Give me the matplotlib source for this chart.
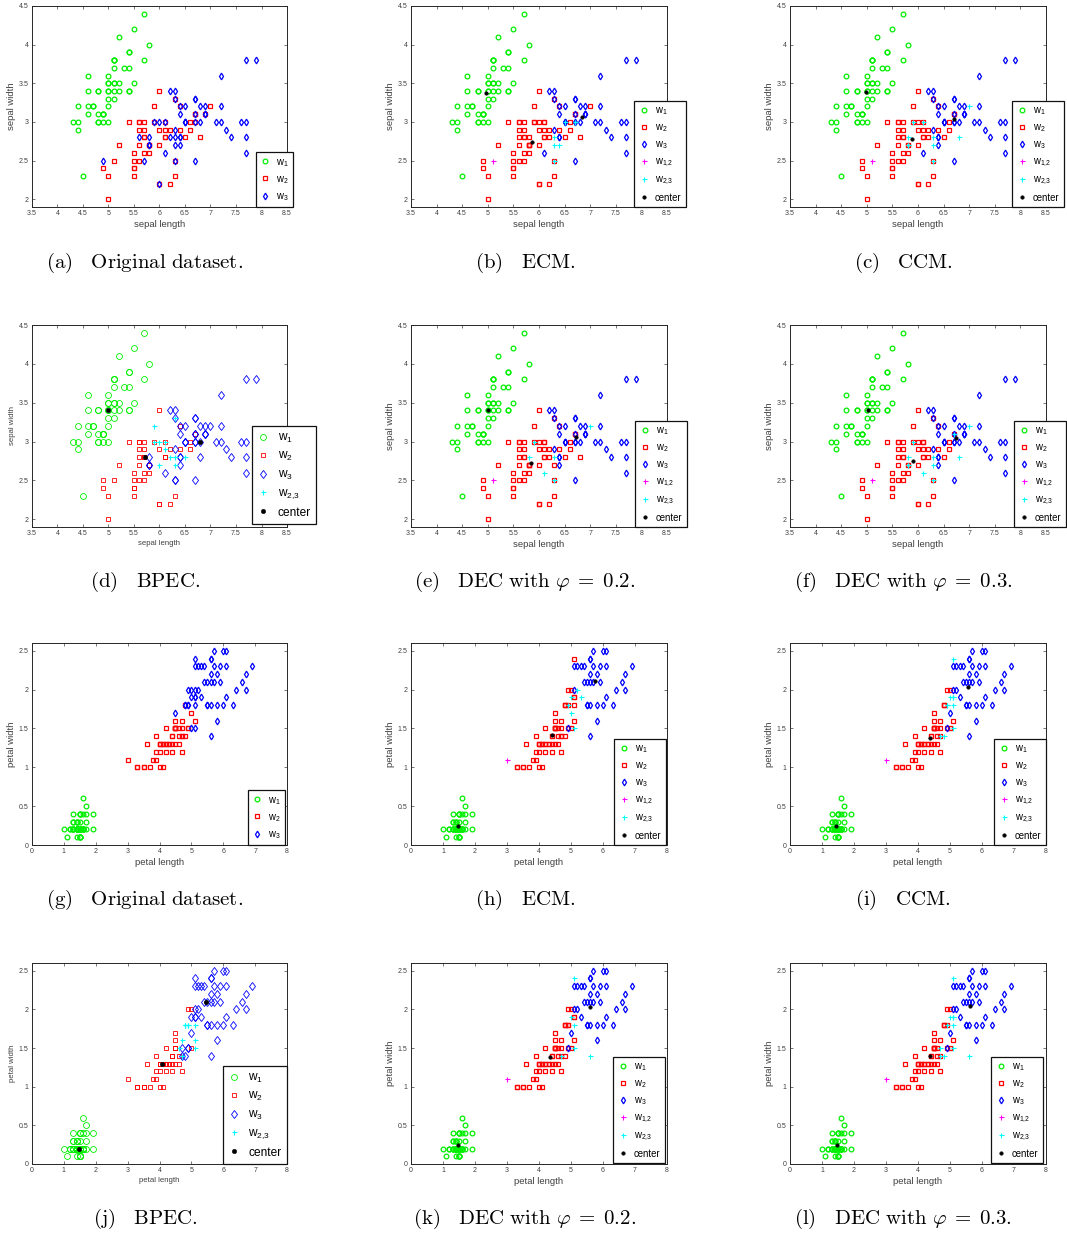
import numpy as np
import matplotlib

matplotlib.use("Agg")
import matplotlib.pyplot as plt

plt.rcParams["font.family"] = ["Liberation Sans", "DejaVu Sans"]
plt.rcParams["mathtext.fontset"] = "custom"
plt.rcParams["mathtext.rm"] = "Liberation Sans"
plt.rcParams["mathtext.it"] = "Liberation Sans:italic"

# Fisher iris data, samples 1..150
SEPAL_LENGTH = [
    5.1, 4.9, 4.7, 4.6, 5.0, 5.4, 4.6, 5.0, 4.4, 4.9, 5.4, 4.8, 4.8, 4.3, 5.8, 5.7, 5.4, 5.1, 5.7, 5.1,
    5.4, 5.1, 4.6, 5.1, 4.8, 5.0, 5.0, 5.2, 5.2, 4.7, 4.8, 5.4, 5.2, 5.5, 4.9, 5.0, 5.5, 4.9, 4.4, 5.1,
    5.0, 4.5, 4.4, 5.0, 5.1, 4.8, 5.1, 4.6, 5.3, 5.0,
    7.0, 6.4, 6.9, 5.5, 6.5, 5.7, 6.3, 4.9, 6.6, 5.2, 5.0, 5.9, 6.0, 6.1, 5.6, 6.7, 5.6, 5.8, 6.2, 5.6,
    5.9, 6.1, 6.3, 6.1, 6.4, 6.6, 6.8, 6.7, 6.0, 5.7, 5.5, 5.5, 5.8, 6.0, 5.4, 6.0, 6.7, 6.3, 5.6, 5.5,
    5.5, 6.1, 5.8, 5.0, 5.6, 5.7, 5.7, 6.2, 5.1, 5.7,
    6.3, 5.8, 7.1, 6.3, 6.5, 7.6, 4.9, 7.3, 6.7, 7.2, 6.5, 6.4, 6.8, 5.7, 5.8, 6.4, 6.5, 7.7, 7.7, 6.0,
    6.9, 5.6, 7.7, 6.3, 6.7, 7.2, 6.2, 6.1, 6.4, 7.2, 7.4, 7.9, 6.4, 6.3, 6.1, 7.7, 6.3, 6.4, 6.0, 6.9,
    6.7, 6.9, 5.8, 6.8, 6.7, 6.7, 6.3, 6.5, 6.2, 5.9,
]
SEPAL_WIDTH = [
    3.5, 3.0, 3.2, 3.1, 3.6, 3.9, 3.4, 3.4, 2.9, 3.1, 3.7, 3.4, 3.0, 3.0, 4.0, 4.4, 3.9, 3.5, 3.8, 3.8,
    3.4, 3.7, 3.6, 3.3, 3.4, 3.0, 3.4, 3.5, 3.4, 3.2, 3.1, 3.4, 4.1, 4.2, 3.1, 3.2, 3.5, 3.1, 3.0, 3.4,
    3.5, 2.3, 3.2, 3.5, 3.8, 3.0, 3.8, 3.2, 3.7, 3.3,
    3.2, 3.2, 3.1, 2.3, 2.8, 2.8, 3.3, 2.4, 2.9, 2.7, 2.0, 3.0, 2.2, 2.9, 2.9, 3.1, 3.0, 2.7, 2.2, 2.5,
    3.2, 2.8, 2.5, 2.8, 2.9, 3.0, 2.8, 3.0, 2.9, 2.6, 2.4, 2.4, 2.7, 2.7, 3.0, 3.4, 3.1, 2.3, 3.0, 2.5,
    2.6, 3.0, 2.6, 2.3, 2.7, 3.0, 2.9, 2.9, 2.5, 2.8,
    3.3, 2.7, 3.0, 2.9, 3.0, 3.0, 2.5, 2.9, 2.5, 3.6, 3.2, 2.7, 3.0, 2.5, 2.8, 3.2, 3.0, 3.8, 2.6, 2.2,
    3.2, 2.8, 2.8, 2.7, 3.3, 3.2, 2.8, 3.0, 2.8, 3.0, 2.8, 3.8, 2.8, 2.8, 2.6, 3.0, 3.4, 3.1, 3.0, 3.1,
    3.1, 3.1, 2.7, 3.2, 3.3, 3.0, 2.5, 3.0, 3.4, 3.0,
]
PETAL_LENGTH = [
    1.4, 1.4, 1.3, 1.5, 1.4, 1.7, 1.4, 1.5, 1.4, 1.5, 1.5, 1.6, 1.4, 1.1, 1.2, 1.5, 1.3, 1.4, 1.7, 1.5,
    1.7, 1.5, 1.0, 1.7, 1.9, 1.6, 1.6, 1.5, 1.4, 1.6, 1.6, 1.5, 1.5, 1.4, 1.5, 1.2, 1.3, 1.5, 1.3, 1.5,
    1.3, 1.3, 1.3, 1.6, 1.9, 1.4, 1.6, 1.4, 1.5, 1.4,
    4.7, 4.5, 4.9, 4.0, 4.6, 4.5, 4.7, 3.3, 4.6, 3.9, 3.5, 4.2, 4.0, 4.7, 3.6, 4.4, 4.5, 4.1, 4.5, 3.9,
    4.8, 4.0, 4.9, 4.7, 4.3, 4.4, 4.8, 5.0, 4.5, 3.5, 3.8, 3.7, 3.9, 5.1, 4.5, 4.5, 4.7, 4.4, 4.1, 4.0,
    4.4, 4.6, 4.0, 3.3, 4.2, 4.2, 4.2, 4.3, 3.0, 4.1,
    6.0, 5.1, 5.9, 5.6, 5.8, 6.6, 4.5, 6.3, 5.8, 6.1, 5.1, 5.3, 5.5, 5.0, 5.1, 5.3, 5.5, 6.7, 6.9, 5.0,
    5.7, 4.9, 6.7, 4.9, 5.7, 6.0, 4.8, 4.9, 5.6, 5.8, 6.1, 6.4, 5.6, 5.1, 5.6, 6.1, 5.6, 5.5, 4.8, 5.4,
    5.6, 5.1, 5.1, 5.9, 5.7, 5.2, 5.0, 5.2, 5.4, 5.1,
]
PETAL_WIDTH = [
    0.2, 0.2, 0.2, 0.2, 0.2, 0.4, 0.3, 0.2, 0.2, 0.1, 0.2, 0.2, 0.1, 0.1, 0.2, 0.4, 0.4, 0.3, 0.3, 0.3,
    0.2, 0.4, 0.2, 0.5, 0.2, 0.2, 0.4, 0.2, 0.2, 0.2, 0.2, 0.4, 0.1, 0.2, 0.1, 0.2, 0.2, 0.1, 0.2, 0.2,
    0.3, 0.3, 0.2, 0.6, 0.4, 0.3, 0.2, 0.2, 0.2, 0.2,
    1.4, 1.5, 1.5, 1.3, 1.5, 1.3, 1.6, 1.0, 1.3, 1.4, 1.0, 1.5, 1.0, 1.4, 1.3, 1.4, 1.5, 1.0, 1.5, 1.1,
    1.8, 1.3, 1.5, 1.2, 1.3, 1.4, 1.4, 1.7, 1.5, 1.0, 1.1, 1.0, 1.2, 1.6, 1.5, 1.6, 1.5, 1.3, 1.3, 1.3,
    1.2, 1.4, 1.2, 1.0, 1.3, 1.2, 1.3, 1.3, 1.1, 1.3,
    2.5, 1.9, 2.1, 1.8, 2.2, 2.1, 1.7, 1.8, 1.8, 2.5, 2.0, 1.9, 2.1, 2.0, 2.4, 2.3, 1.8, 2.2, 2.3, 1.5,
    2.3, 2.0, 2.0, 1.8, 2.1, 1.8, 1.8, 1.8, 2.1, 1.6, 1.9, 2.0, 2.2, 1.5, 1.4, 2.3, 2.4, 1.8, 1.8, 2.1,
    2.4, 2.3, 1.9, 2.3, 2.5, 2.3, 1.9, 2.0, 2.3, 1.8,
]
TRUE_CLASS = [1] * 50 + [2] * 50 + [3] * 50

# cluster decisions (1-based sample numbers)
ECM_W12 = [99]
ECM_W23 = [78, 112, 124, 134, 147, 148]
ECM_TO_W2 = [102, 107, 114, 115, 120, 122, 127, 128, 139, 143, 150]
ECM_TO_W3 = [53]
ECM_CENTER_SEPAL = [(4.97, 3.38), (5.87, 2.74), (6.84, 3.06)]
ECM_CENTER_PETAL = [(1.48, 0.25), (4.42, 1.42), (5.75, 2.11)]

CCM_W12 = [99]
CCM_W23 = [51, 77, 102, 115, 124, 128, 134, 143, 147, 150]
CCM_TO_W2 = [107, 114, 120, 122, 127, 139]
CCM_TO_W3 = [53, 78]
CCM_CENTER_SEPAL = [(4.98, 3.39), (5.88, 2.78), (6.70, 3.04)]
CCM_CENTER_PETAL = [(1.45, 0.24), (4.37, 1.38), (5.57, 2.04)]

BPEC_W12 = []
BPEC_W23 = [55, 57, 64, 71, 84, 124, 127, 128, 134, 139, 150]
BPEC_TO_W2 = [107, 114, 120, 122]
BPEC_TO_W3 = [51, 53, 73, 77, 78, 87]
BPEC_CENTER_SEPAL = [(5.00, 3.40), (5.71, 2.80), (6.80, 3.00)]
BPEC_CENTER_PETAL = [(1.49, 0.20), (4.09, 1.30), (5.47, 2.10)]

DEC2_W12 = [99]
DEC2_W23 = [51, 115, 134, 135, 147, 150]
DEC2_TO_W2 = [102, 107, 114, 120, 122, 124, 127, 128, 139, 143]
DEC2_TO_W3 = [53, 78]
DEC2_CENTER_SEPAL = [(5.01, 3.40), (5.85, 2.73), (6.73, 3.06)]
DEC2_CENTER_PETAL = [(1.48, 0.25), (4.34, 1.39), (5.59, 2.03)]

DEC3_W12 = [99]
DEC3_W23 = [51, 77, 87, 102, 115, 124, 134, 135, 143, 147, 150]
DEC3_TO_W2 = [107, 114, 120, 122, 127, 128, 139]
DEC3_TO_W3 = [53, 78]
DEC3_CENTER_SEPAL = [(5.03, 3.40), (5.90, 2.75), (6.75, 3.05)]
DEC3_CENTER_PETAL = [(1.47, 0.25), (4.37, 1.40), (5.62, 2.05)]

SEPAL_XTICKS = [3.5, 4, 4.5, 5, 5.5, 6, 6.5, 7, 7.5, 8, 8.5]
SEPAL_YTICKS = [2, 2.5, 3, 3.5, 4, 4.5]
PETAL_XTICKS = [0, 1, 2, 3, 4, 5, 6, 7, 8]
PETAL_YTICKS = [0, 0.5, 1, 1.5, 2, 2.5]

CAPTIONS = [
    r"(a)\ \ \ Original\ dataset.", r"(b)\ \ \ ECM.", r"(c)\ \ \ CCM.",
    r"(d)\ \ \ BPEC.", r"(e)\ \ \ DEC\ with\ ", r"(f)\ \ \ DEC\ with\ ",
    r"(g)\ \ \ Original\ dataset.", r"(h)\ \ \ ECM.", r"(i)\ \ \ CCM.",
    r"(j)\ \ \ BPEC.", r"(k)\ \ \ DEC\ with\ ", r"(l)\ \ \ DEC\ with\ ",
]
PHI = {4: "0.2", 5: "0.3", 10: "0.2", 11: "0.3"}

W, H = 1067, 1237
ROWS = [(6, 207), (325, 527), (643, 845), (963, 1164)]
COLS = [(32, 287), (411, 667), (790, 1046)]
CAP_X = [145, 525, 903]
CAP_Y = [263, 582, 900, 1219]
# legend right edge / bottom edge in pixels
LEG_POS = [(293, 207), (686, 207), (1064, 207),
           (316, 524), (687, 527), (1066, 527),
           (285, 845), (666, 845), (1046, 845),
           (287, 1164), (665, 1163), (1043, 1163)]


def labels_for(w12, w23, to_w2, to_w3):
    lab = list(TRUE_CLASS)
    for i in to_w2:
        lab[i - 1] = 2
    for i in to_w3:
        lab[i - 1] = 3
    for i in w12:
        lab[i - 1] = 12
    for i in w23:
        lab[i - 1] = 23
    return np.array(lab)


METHODS = {
    "orig": (np.array(TRUE_CLASS), None, None),
    "ecm": (labels_for(ECM_W12, ECM_W23, ECM_TO_W2, ECM_TO_W3), ECM_CENTER_SEPAL, ECM_CENTER_PETAL),
    "ccm": (labels_for(CCM_W12, CCM_W23, CCM_TO_W2, CCM_TO_W3), CCM_CENTER_SEPAL, CCM_CENTER_PETAL),
    "bpec": (labels_for(BPEC_W12, BPEC_W23, BPEC_TO_W2, BPEC_TO_W3), BPEC_CENTER_SEPAL, BPEC_CENTER_PETAL),
    "dec2": (labels_for(DEC2_W12, DEC2_W23, DEC2_TO_W2, DEC2_TO_W3), DEC2_CENTER_SEPAL, DEC2_CENTER_PETAL),
    "dec3": (labels_for(DEC3_W12, DEC3_W23, DEC3_TO_W2, DEC3_TO_W3), DEC3_CENTER_SEPAL, DEC3_CENTER_PETAL),
}
PANELS = ["orig", "ecm", "ccm", "bpec", "dec2", "dec3"] * 2

GREEN, RED, BLUE = "#00ee00", "#ff0000", "#0000ff"
MAGENTA, CYAN = "#ff00ff", "#00ffff"


def draw_panel(ax, idx):
    method = PANELS[idx]
    view = "sepal" if idx < 6 else "petal"
    lab, c_sep, c_pet = METHODS[method]
    if view == "sepal":
        xs, ys = np.array(SEPAL_LENGTH), np.array(SEPAL_WIDTH)
        centers = c_sep
    else:
        xs, ys = np.array(PETAL_LENGTH), np.array(PETAL_WIDTH)
        centers = c_pet
    big = method == "bpec"
    k = 1.25 if big else 1.0
    mew = 0.6 if big else 0.9
    styles = [
        (1, "o", GREEN, 3.4 * k, r"w$_1$"),
        (2, "s", RED, 2.8 * k, r"w$_2$"),
        (3, "d", BLUE, 3.4 * k, r"w$_3$"),
        (12, "+", MAGENTA, 3.6, r"w$_{1,\!2}$"),
        (23, "+", CYAN, 3.6, r"w$_{2,\!3}$"),
    ]
    handles = []
    for cls, mk, col, ms, name in styles:
        sel = lab == cls
        if not sel.any() and cls in (12, 23):
            continue
        h, = ax.plot(xs[sel], ys[sel], ls="none", marker=mk, ms=ms, mfc="none",
                     mec=col, mew=mew if mk != "+" else 0.8, label=name)
        handles.append(h)
    if centers is not None:
        cx = [c[0] for c in centers]
        cy = [c[1] for c in centers]
        h, = ax.plot(cx, cy, ls="none", marker="o", ms=2.6 * k, mfc="k", mec="k",
                     mew=0.3, label="center")
        handles.append(h)

    if view == "sepal":
        ax.set_xlim(3.5, 8.5)
        ax.set_ylim(1.9, 4.5)
        ax.set_xticks(SEPAL_XTICKS)
        ax.set_yticks(SEPAL_YTICKS)
        ax.set_xticklabels([f"{t:g}" for t in SEPAL_XTICKS])
        ax.set_yticklabels([f"{t:g}" for t in SEPAL_YTICKS])
        xl, yl = "sepal length", "sepal width"
    else:
        ax.set_xlim(0, 8)
        ax.set_ylim(0, 2.6)
        ax.set_xticks(PETAL_XTICKS)
        ax.set_yticks(PETAL_YTICKS)
        ax.set_xticklabels([f"{t:g}" for t in PETAL_XTICKS])
        ax.set_yticklabels([f"{t:g}" for t in PETAL_YTICKS])
        xl, yl = "petal length", "petal width"
    lsz = 5.6 if big else 6.8
    ax.set_xlabel(xl, fontsize=lsz, color="#404040", labelpad=1.5)
    ax.set_ylabel(yl, fontsize=lsz, color="#404040", labelpad=2)
    ax.tick_params(direction="in", length=2.2, width=0.5, labelsize=5,
                   colors="#404040", top=True, right=True, pad=2.5)
    for sp in ax.spines.values():
        sp.set_linewidth(0.7)
        sp.set_color("#262626")

    (l, r), (t, b) = COLS[idx % 3], ROWS[idx // 3]
    rx, by = LEG_POS[idx]
    anchor = ((rx - l) / (r - l), (b - by) / (b - t))
    fs = 8.6 if big else 6.9
    leg = ax.legend(handles=handles, loc="lower right", bbox_to_anchor=anchor,
                    borderaxespad=0, fontsize=fs, frameon=True, fancybox=False,
                    edgecolor="#111111", framealpha=1, handlelength=1.0,
                    handletextpad=0.7, borderpad=0.45,
                    labelspacing=0.45 if big else 0.55)
    leg.get_frame().set_linewidth(0.9)
    leg.set_clip_on(False)


fig = plt.figure(figsize=(W / 100, H / 100), dpi=100)
for idx in range(12):
    (l, r), (t, b) = COLS[idx % 3], ROWS[idx // 3]
    ax = fig.add_axes([l / W, 1 - b / H, (r - l) / W, (b - t) / H])
    draw_panel(ax, idx)
    cap = r"$\mathrm{" + CAPTIONS[idx] + "}"
    if idx in PHI:
        cap += r"\varphi\;=\;" + PHI[idx] + r"\mathrm{.}"
    cap += "$"
    fig.text(CAP_X[idx % 3] / W, 1 - CAP_Y[idx // 3] / H, cap, ha="center",
             va="center", fontsize=15, math_fontfamily="cm")

fig.savefig("out.png", dpi=100)
